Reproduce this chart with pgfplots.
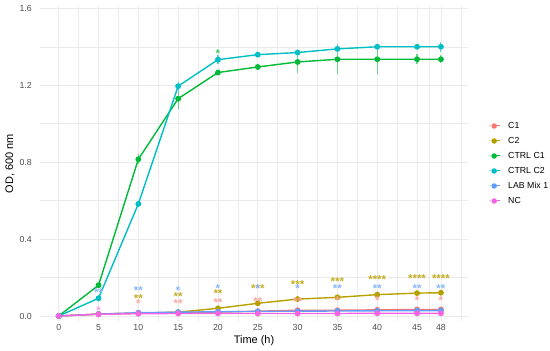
\documentclass[border=0pt]{standalone}
\usepackage{fontspec}
\setmainfont{Liberation Sans}
\usepackage{pgfplots}
\pgfplotsset{compat=1.18}
\usepackage{pgfplotstable}
\definecolor{cC1}{HTML}{F8766D}
\definecolor{cC2}{HTML}{B79F00}
\definecolor{cCTa}{HTML}{00BA38}
\definecolor{cCTb}{HTML}{00BFC4}
\definecolor{cLAB}{HTML}{619CFF}
\definecolor{cNC}{HTML}{F564E3}
\definecolor{eCTa}{HTML}{6ED48C}
\definecolor{eCTb}{HTML}{5ED6D8}
\definecolor{gridc}{HTML}{EBEBEB}
\definecolor{tickc}{HTML}{4D4D4D}

\pgfplotstableread{
x y
0 0
5 0.010
10 0.015
15 0.018
20 0.020
25 0.025
30 0.030
35 0.030
40 0.032
45 0.034
48 0.034
}\dataCa
\pgfplotstableread{
x y
0 0
5 0.010
10 0.015
15 0.020
20 0.040
25 0.066
30 0.088
35 0.097
40 0.111
45 0.119
48 0.121
}\dataCb
\pgfplotstableread{
x y
0 0
5 0.160
10 0.815
15 1.130
20 1.266
25 1.295
30 1.321
35 1.335
40 1.335
45 1.335
48 1.335
}\dataCTa
\pgfplotstableread{
x y
0 0
5 0.092
10 0.583
15 1.195
20 1.333
25 1.359
30 1.370
35 1.389
40 1.400
45 1.400
48 1.400
}\dataCTb
\pgfplotstableread{
x y
0 0
5 0.010
10 0.017
15 0.020
20 0.022
25 0.024
30 0.025
35 0.026
40 0.027
45 0.028
48 0.028
}\dataLAB
\pgfplotstableread{
x y
0 0
5 0.009
10 0.012
15 0.013
20 0.013
25 0.013
30 0.013
35 0.013
40 0.014
45 0.014
48 0.014
}\dataNC

% error bar ends (low, high), separated by nan rows
\pgfplotstableread{
x y
5 0.152
5 0.168
5 nan
10 0.789
10 0.841
10 nan
15 1.075
15 1.185
15 nan
20 1.256
20 1.276
20 nan
25 1.285
25 1.305
25 nan
30 1.266
30 1.376
30 nan
35 1.260
35 1.410
35 nan
40 1.260
40 1.410
40 nan
45 1.308
45 1.362
45 nan
48 1.315
48 1.355
}\errCTa
\pgfplotstableread{
x y
5 0.082
5 0.102
5 nan
10 0.573
10 0.593
10 nan
15 1.175
15 1.215
15 nan
20 1.311
20 1.355
20 nan
25 1.351
25 1.367
25 nan
30 1.360
30 1.380
30 nan
35 1.366
35 1.412
35 nan
40 1.385
40 1.415
40 nan
45 1.390
45 1.410
45 nan
48 1.375
48 1.425
}\errCTb

\pgfplotstableread{
x y s
10 0.078 *
15 0.078 **
20 0.082 **
25 0.087 **
30 0.087 **
35 0.095 *
40 0.092 *
45 0.092 *
48 0.092 *
}\starCa
\pgfplotstableread{
x y s
10 0.105 **
15 0.115 **
20 0.130 **
25 0.157 ***
30 0.178 ***
35 0.192 ***
40 0.203 ****
45 0.210 ****
48 0.210 ****
}\starCb
\pgfplotstableread{
x y s
5 0.135 **
10 0.145 **
15 0.147 *
20 0.158 *
25 0.154 *
30 0.156 *
35 0.156 **
40 0.156 **
45 0.156 **
48 0.156 **
}\starLAB
\pgfplotstableread{
x y s
5 0.040 *
}\starNC
\pgfplotstableread{
x y s
20 1.380 *
}\starCTa

\pgfplotsset{
  stars/.style={draw=none, mark=none, forget plot, nodes near coords,
    point meta=explicit symbolic,
    every node near coord/.style={anchor=base, inner sep=0pt, yshift=-6.6bp,
      font=\fontsize{11.5}{12}\selectfont\bfseries, text=#1}},
}

\begin{document}
\begin{tikzpicture}
\useasboundingbox (0,0) rectangle (550bp,351bp);
\begin{axis}[
  at={(40bp,30bp)}, anchor=south west,
  scale only axis, width=428bp, height=315bp,
  xmin=-2.35, xmax=51.4, ymin=-0.026, ymax=1.612,
  axis line style={draw=none},
  major tick length=0pt, minor tick length=0pt,
  tick style={draw=none},
  xtick={0,5,10,15,20,25,30,35,40,45,48},
  ytick={0,0.4,0.8,1.2,1.6},
  minor xtick={2.5,7.5,12.5,17.5,22.5,27.5,32.5,37.5,42.5,46.5,50.5},
  minor ytick={0.2,0.6,1.0,1.4},
  grid=both,
  major grid style={color=gridc, line width=0.8bp},
  minor grid style={color=gridc, line width=0.45bp},
  unbounded coords=jump,
  /pgf/number format/assume math mode=true,
  ticklabel style={font=\fontsize{8.8}{10}\selectfont, text=tickc, inner sep=0pt},
  yticklabel style={anchor=east, xshift=-8bp, /pgf/number format/fixed, /pgf/number format/fixed zerofill, /pgf/number format/precision=1},
  xticklabel style={anchor=north, yshift=-3bp},
  xlabel={Time (h)},
  xlabel style={font=\fontsize{11}{12}\selectfont, at={(axis description cs:0.5,0)}, anchor=north, inner sep=0pt, yshift=-14bp},
  ylabel={OD, 600 nm},
  ylabel style={font=\fontsize{11}{12}\selectfont, at={(axis description cs:-0.059,0.5)}, anchor=south, inner sep=0pt},
  legend style={at={(axis description cs:1,0.5)}, anchor=west, xshift=20bp,
    draw=none, fill=none, font=\fontsize{8.8}{10}\selectfont,
    inner sep=0pt, row sep=6.5bp, column sep=8bp,
    nodes={inner sep=0pt, text height=6.5bp, text depth=2bp}},
  legend cell align=left,
  legend image code/.code={\draw[mark repeat=2, mark phase=2, line width=1bp] plot coordinates {(0bp,0bp)(5.5bp,0bp)(11bp,0bp)};},
]
\addplot[forget plot, draw=eCTa, mark=none, line width=1.1bp] table[x=x, y=y] {\errCTa};
\addplot[forget plot, draw=eCTb, mark=none, line width=1.1bp] table[x=x, y=y] {\errCTb};

\addplot[color=cC1, mark=*, mark size=2.2bp, line width=1.4bp] table[x=x, y=y] {\dataCa};
\addlegendentry{C1}
\addplot[color=cC2, mark=*, mark size=2.2bp, line width=1.4bp] table[x=x, y=y] {\dataCb};
\addlegendentry{C2}
\addplot[color=cCTa, mark=*, mark size=2.2bp, line width=1.4bp] table[x=x, y=y] {\dataCTa};
\addlegendentry{CTRL C1}
\addplot[color=cCTb, mark=*, mark size=2.2bp, line width=1.4bp] table[x=x, y=y] {\dataCTb};
\addlegendentry{CTRL C2}
\addplot[color=cLAB, mark=*, mark size=2.2bp, line width=1.4bp] table[x=x, y=y] {\dataLAB};
\addlegendentry{LAB Mix 1}
\addplot[color=cNC, mark=*, mark size=2.2bp, line width=1.4bp] table[x=x, y=y] {\dataNC};
\addlegendentry{NC}

\addplot[stars=cC1!65] table[x=x, y=y, meta=s] {\starCa};
\addplot[stars=cC2!85] table[x=x, y=y, meta=s] {\starCb};
\addplot[stars=cLAB!75] table[x=x, y=y, meta=s] {\starLAB};
\addplot[stars=cNC!65] table[x=x, y=y, meta=s] {\starNC};
\addplot[stars=cCTa!75] table[x=x, y=y, meta=s] {\starCTa};
\end{axis}
\end{tikzpicture}
\end{document}
